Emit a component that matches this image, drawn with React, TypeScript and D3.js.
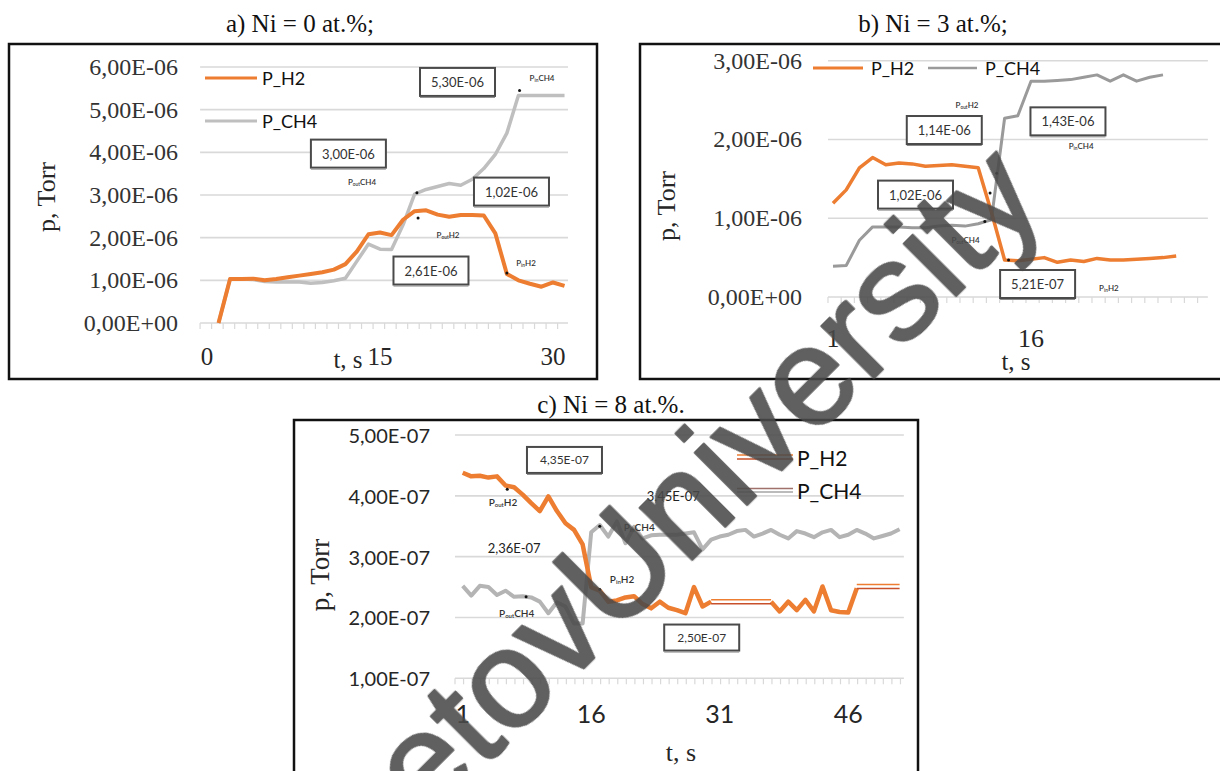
import React from "react";
import * as d3 from "d3";

// ---------- Panel a: Ni = 0 at.% (values in 1e-6 Torr, t = 1..31)
const A_H2 = [0, 1.03, 1.03, 1.04, 1.0, 1.03, 1.07, 1.11, 1.15, 1.19, 1.25, 1.38, 1.68, 2.08, 2.12, 2.06, 2.42, 2.62, 2.64, 2.54, 2.49, 2.53, 2.53, 2.52, 2.1, 1.15, 1.0, 0.92, 0.85, 0.95, 0.87];
const A_CH4 = [0, 1.03, 1.03, 1.02, 0.97, 0.96, 0.96, 0.96, 0.93, 0.95, 0.99, 1.05, 1.45, 1.85, 1.73, 1.72, 2.3, 3.02, 3.13, 3.2, 3.27, 3.23, 3.37, 3.62, 3.95, 4.45, 5.33, 5.33, 5.33, 5.33, 5.33];
const A_YTICKS = [0, 1, 2, 3, 4, 5, 6];
const A_YLABELS = ["0,00E+00", "1,00E-06", "2,00E-06", "3,00E-06", "4,00E-06", "5,00E-06", "6,00E-06"];
const A_XTICKS = [0, 15, 30];
const A_XLABELS = ["0", "15", "30"];

// ---------- Panel b: Ni = 3 at.% (values in 1e-6 Torr, t = 1..)
const B_H2 = [1.19, 1.36, 1.64, 1.77, 1.68, 1.7, 1.69, 1.66, 1.67, 1.68, 1.66, 1.64, 1.08, 0.47, 0.46, 0.48, 0.5, 0.44, 0.47, 0.45, 0.49, 0.47, 0.47, 0.48, 0.49, 0.5, 0.52];
const B_CH4 = [0.39, 0.4, 0.72, 0.89, 0.89, 0.89, 0.88, 0.88, 0.9, 0.91, 0.9, 0.93, 0.98, 2.27, 2.3, 2.74, 2.74, 2.75, 2.76, 2.79, 2.82, 2.74, 2.82, 2.74, 2.79, 2.82];
const B_YTICKS = [0, 1, 2, 3];
const B_YLABELS = ["0,00E+00", "1,00E-06", "2,00E-06", "3,00E-06"];
const B_XTICKS = [1, 16];
const B_XLABELS = ["1", "16"];

// ---------- Panel c: Ni = 8 at.% (values in 1e-7 Torr, t = 1..52)
const C_H2 = [4.38, 4.32, 4.33, 4.3, 4.32, 4.17, 4.14, 4.02, 3.88, 3.75, 3.99, 3.75, 3.55, 3.44, 3.2, 2.5, 2.44, 2.26, 2.28, 2.33, 2.35, 2.22, 2.15, 2.26, 2.16, 2.12, 2.07, 2.5, 2.18, 2.26,
  null, null, null, null, null, null,
  2.26, 2.1, 2.26, 2.12, 2.29, 2.1, 2.51, 2.12, 2.09, 2.08, 2.48,
  null, null, null, null, null];
const C_CH4 = [2.52, 2.36, 2.52, 2.5, 2.37, 2.44, 2.34, 2.35, 2.33, 2.26, 2.07, 2.25, 2.18, 1.9, 1.9, 3.4, 3.52, 3.33, 3.58, 3.22, 3.49, 3.3, 3.35, 3.36, 3.36, 3.36, 3.38, 3.4, 3.12, 3.28, 3.33, 3.36, 3.42, 3.44, 3.33, 3.38, 3.44, 3.36, 3.3, 3.42, 3.38, 3.32, 3.4, 3.44, 3.32, 3.36, 3.44, 3.38, 3.3, 3.34, 3.38, 3.45];
// hand-drawn double-line bridges on the H2 curve: [t from, t to, value]
const C_H2_BRIDGES = [[30, 37, 2.26], [47, 52, 2.51]];
const C_YTICKS = [1, 2, 3, 4, 5];
const C_YLABELS = ["1,00E-07", "2,00E-07", "3,00E-07", "4,00E-07", "5,00E-07"];
const C_XTICKS = [1, 16, 31, 46];
const C_XLABELS = ["1", "16", "31", "46"];

// ---------- annotations (data coords: t, value)
const A_BOXES = [["5,30E-06", 21.72, 5.65], ["3,00E-06", 12.26, 3.97], ["1,02E-06", 26.4, 3.08], ["2,61E-06", 19.42, 1.23]];
const A_SMALL = [["in", "CH4", 29.05, 5.74], ["out", "CH4", 13.44, 3.3], ["out", "H2", 20.9, 2.06], ["in", "H2", 27.66, 1.41]];
const A_DOTS = [[27.1, 5.45], [18.2, 3.05], [18.3, 2.46], [26.0, 1.17]];

const B_BOXES = [["1,14E-06", 9.43, 2.12], ["1,43E-06", 18.8, 2.23], ["1,02E-06", 7.25, 1.3], ["5,21E-07", 16.5, 0.165]];
const B_SMALL = [["out", "H2", 11.15, 2.44], ["in", "CH4", 19.8, 1.92], ["out", "CH4", 11.04, 0.72], ["in", "H2", 21.9, 0.11]];
const B_DOTS = [[13.4, 1.57], [12.9, 1.32], [12.5, 0.96], [14.3, 0.47]];

const C_BOXES = [["4,35E-07", 12.88, 4.59], ["2,50E-07", 28.9, 1.67]];
const C_TEXTS = [["3,45E-07", 25.58, 3.99], ["2,36E-07", 7.01, 3.14]];
const C_SMALL = [["out", "H2", 5.7, 3.9], ["out", "CH4", 7.3, 2.08], ["in", "CH4", 21.6, 3.49], ["in", "H2", 19.6, 2.64]];
const C_DOTS = [[6.2, 4.11], [8.4, 2.34], [17.0, 3.5], [17.0, 2.46]];

const SERIF = "'Liberation Serif', 'Times New Roman', serif";
const SANS = "Lato, 'Open Sans', 'Liberation Sans', sans-serif";
const ORANGE = "#ED7D31";
const TXT = "#262626";

type Sc = d3.ScaleLinear<number, number>;

function seriesPath(vals: (number | null)[], x: Sc, y: Sc) {
  const line = d3
    .line<number | null>()
    .defined((d) => d != null)
    .x((_d, i) => x(i + 1))
    .y((d) => y(d as number));
  return line(vals) || "";
}

function Box({ label, cx, cy, w, h, fs }: any) {
  return (
    <g>
      <rect x={cx - w / 2} y={cy - h / 2} width={w} height={h} fill="#fff" stroke="#4a4a4a" strokeWidth={2} />
      <line x1={cx - w / 2} x2={cx + w / 2} y1={cy + h / 2 + 1.5} y2={cy + h / 2 + 1.5} stroke="#8a8a8a" strokeWidth={1} />
      <text x={cx} y={cy} textAnchor="middle" dominantBaseline="central" fontFamily={SANS} fontSize={fs} fill="#333">
        {label}
      </text>
    </g>
  );
}

function Small({ sub, gas, cx, cy, fs }: any) {
  return (
    <text x={cx} y={cy} textAnchor="middle" dominantBaseline="central" fontFamily={SANS} fontSize={fs} fill="#333" fontWeight={600}>
      P<tspan fontSize={fs * 0.6} dy={fs * 0.25}>{sub}</tspan>
      <tspan dy={-fs * 0.25}>{gas}</tspan>
    </text>
  );
}

function Grid({ x, y, ticks, t0, t1, tickStep }: any) {
  const bottom = ticks[0];
  const tickPos: number[] = [];
  for (let t = t0; t <= t1 + 1e-6; t += tickStep) tickPos.push(t);
  return (
    <g>
      {ticks.map((v: number) => (
        <line key={v} x1={x(t0)} x2={x(t1)} y1={y(v)} y2={y(v)} stroke="#d9d9d9" strokeWidth={1.6} />
      ))}
      {tickPos.map((t, i) => (
        <line key={i} x1={x(t)} x2={x(t)} y1={y(bottom)} y2={y(bottom) + 6} stroke="#d9d9d9" strokeWidth={1.2} />
      ))}
    </g>
  );
}

export default function App() {
  // panel a
  const xa = d3.scaleLinear().domain([0, 30]).range([207, 553]);
  const ya = d3.scaleLinear().domain([0, 6]).range([323, 67]);
  // panel b
  const xb = d3.scaleLinear().domain([1, 16]).range([833, 1031]);
  const yb = d3.scaleLinear().domain([0, 3]).range([297, 60.7]);
  // panel c
  const xc = d3.scaleLinear().domain([1, 46]).range([462.7, 848.2]);
  const yc = d3.scaleLinear().domain([1, 5]).range([678.3, 435]);

  return (
    <svg width={1220} height={771} style={{ position: "absolute", left: 0, top: 0, background: "#fff" }}>
      <rect x={0} y={0} width={1220} height={771} fill="#fff" />

      {/* ================= Panel a ================= */}
      <text x={300} y={32} textAnchor="middle" fontFamily={SERIF} fontSize={25} fill="#111">a) Ni = 0 at.%;</text>
      <rect x={9} y={44} width={588} height={335} fill="none" stroke="#111" strokeWidth={2.5} />
      <Grid x={xa} y={ya} ticks={A_YTICKS} t0={-0.6} t1={31.3} tickStep={1} />
      {A_YTICKS.map((v, i) => (
        <text key={v} x={178} y={ya(v)} textAnchor="end" dominantBaseline="central" fontFamily={SERIF} fontSize={24} fill="#333">
          {A_YLABELS[i]}
        </text>
      ))}
      {A_XTICKS.map((t, i) => (
        <text key={t} x={xa(t)} y={356} textAnchor="middle" dominantBaseline="central" fontFamily={SERIF} fontSize={25} fill={TXT}>
          {A_XLABELS[i]}
        </text>
      ))}
      <text x={348} y={359} textAnchor="middle" dominantBaseline="central" fontFamily={SERIF} fontSize={25} fill={TXT}>t, s</text>
      <text transform="translate(46,197) rotate(-90)" textAnchor="middle" dominantBaseline="central" fontFamily={SERIF} fontSize={26} fill={TXT}>p, Torr</text>
      <path d={seriesPath(A_CH4, xa, ya)} fill="none" stroke="#bfbfbf" strokeWidth={3.5} strokeLinejoin="round" />
      <path d={seriesPath(A_H2, xa, ya)} fill="none" stroke={ORANGE} strokeWidth={4} strokeLinejoin="round" />
      {/* legend a */}
      <line x1={205} x2={257} y1={78} y2={78} stroke={ORANGE} strokeWidth={3} />
      <text x={262} y={78} dominantBaseline="central" fontFamily={SANS} fontSize={18} fill="#111">P_H2</text>
      <line x1={205} x2={257} y1={121} y2={121} stroke="#bfbfbf" strokeWidth={3} />
      <text x={262} y={121} dominantBaseline="central" fontFamily={SANS} fontSize={18} fill="#111">P_CH4</text>
      {A_BOXES.map((b: any, i) => (
        <Box key={i} label={b[0]} cx={xa(b[1])} cy={ya(b[2])} w={75} h={28} fs={13} />
      ))}
      {A_SMALL.map((s: any, i) => (
        <Small key={i} sub={s[0]} gas={s[1]} cx={xa(s[2])} cy={ya(s[3])} fs={8} />
      ))}
      {A_DOTS.map((d, i) => (
        <circle key={i} cx={xa(d[0])} cy={ya(d[1])} r={1.5} fill="#111" />
      ))}

      {/* ================= Panel b ================= */}
      <text x={933} y={32} textAnchor="middle" fontFamily={SERIF} fontSize={25} fill="#111">b) Ni = 3 at.%;</text>
      <rect x={640} y={44} width={600} height={335} fill="none" stroke="#111" strokeWidth={2.5} />
      <Grid x={xb} y={yb} ticks={B_YTICKS} t0={0.62} t1={29.4} tickStep={1} />
      {B_YTICKS.map((v, i) => (
        <text key={v} x={802} y={yb(v)} textAnchor="end" dominantBaseline="central" fontFamily={SERIF} fontSize={24} fill="#333">
          {B_YLABELS[i]}
        </text>
      ))}
      {B_XTICKS.map((t, i) => (
        <text key={t} x={xb(t)} y={338} textAnchor="middle" dominantBaseline="central" fontFamily={SERIF} fontSize={26} fill={TXT}>
          {B_XLABELS[i]}
        </text>
      ))}
      <text x={1016} y={361} textAnchor="middle" dominantBaseline="central" fontFamily={SERIF} fontSize={25} fill={TXT}>t, s</text>
      <text transform="translate(666,206) rotate(-90)" textAnchor="middle" dominantBaseline="central" fontFamily={SERIF} fontSize={26} fill={TXT}>p, Torr</text>
      <path d={seriesPath(B_CH4, xb, yb)} fill="none" stroke="#9a9a9a" strokeWidth={3} strokeLinejoin="round" />
      <path d={seriesPath(B_H2, xb, yb)} fill="none" stroke={ORANGE} strokeWidth={3.5} strokeLinejoin="round" />
      {/* legend b */}
      <line x1={813} x2={863} y1={68} y2={68} stroke={ORANGE} strokeWidth={3} />
      <text x={871} y={68} dominantBaseline="central" fontFamily={SANS} fontSize={18} fill="#111">P_H2</text>
      <line x1={928} x2={977} y1={68} y2={68} stroke="#9a9a9a" strokeWidth={2.5} />
      <text x={985} y={68} dominantBaseline="central" fontFamily={SANS} fontSize={18} fill="#111">P_CH4</text>
      {B_BOXES.map((b: any, i) => (
        <Box key={i} label={b[0]} cx={xb(b[1])} cy={yb(b[2])} w={75} h={28} fs={13} />
      ))}
      {B_SMALL.map((s: any, i) => (
        <Small key={i} sub={s[0]} gas={s[1]} cx={xb(s[2])} cy={yb(s[3])} fs={8} />
      ))}
      {B_DOTS.map((d, i) => (
        <circle key={i} cx={xb(d[0])} cy={yb(d[1])} r={1.5} fill="#111" />
      ))}

      {/* ================= Panel c ================= */}
      <text x={611} y={413} textAnchor="middle" fontFamily={SERIF} fontSize={25} fill="#111">c) Ni = 8 at.%.</text>
      <rect x={294} y={420} width={624} height={380} fill="none" stroke="#111" strokeWidth={2.5} />
      <Grid x={xc} y={yc} ticks={C_YTICKS} t0={0.1} t1={52.5} tickStep={1} />
      {C_YTICKS.map((v, i) => (
        <text key={v} x={430} y={yc(v)} textAnchor="end" dominantBaseline="central" fontFamily={SANS} fontSize={20} fill={TXT}>
          {C_YLABELS[i]}
        </text>
      ))}
      {C_XTICKS.map((t, i) => (
        <text key={t} x={xc(t)} y={713} textAnchor="middle" dominantBaseline="central" fontFamily={SANS} fontSize={25} fill={TXT}>
          {C_XLABELS[i]}
        </text>
      ))}
      <text x={681} y={752} textAnchor="middle" dominantBaseline="central" fontFamily={SERIF} fontSize={26} fill={TXT}>t, s</text>
      <text transform="translate(320,575) rotate(-90)" textAnchor="middle" dominantBaseline="central" fontFamily={SERIF} fontSize={27} fill={TXT}>p, Torr</text>
      <path d={seriesPath(C_CH4, xc, yc)} fill="none" stroke="#b4b4b4" strokeWidth={4} strokeLinejoin="round" />
      <path d={seriesPath(C_H2, xc, yc)} fill="none" stroke={ORANGE} strokeWidth={4.5} strokeLinejoin="round" />
      {C_H2_BRIDGES.map((b, i) => (
        <g key={i}>
          <line x1={xc(b[0])} x2={xc(b[1])} y1={yc(b[2]) - 2} y2={yc(b[2]) - 2} stroke={ORANGE} strokeWidth={1.5} />
          <line x1={xc(b[0])} x2={xc(b[1])} y1={yc(b[2]) + 2} y2={yc(b[2]) + 2} stroke="#C8502A" strokeWidth={1.5} />
        </g>
      ))}
      {/* legend c */}
      <line x1={737} x2={793} y1={455} y2={455} stroke={ORANGE} strokeWidth={1.6} />
      <line x1={737} x2={793} y1={459} y2={459} stroke="#C8502A" strokeWidth={1.6} />
      <text x={797} y={457} dominantBaseline="central" fontFamily={SANS} fontSize={21} fill="#111">P_H2</text>
      <line x1={737} x2={793} y1={488.5} y2={488.5} stroke="#a0706a" strokeWidth={1.5} />
      <line x1={737} x2={793} y1={492} y2={492} stroke="#a5a5a5" strokeWidth={1.5} />
      <text x={797} y={490} dominantBaseline="central" fontFamily={SANS} fontSize={21} fill="#111">P_CH4</text>
      {C_BOXES.map((b: any, i) => (
        <Box key={i} label={b[0]} cx={xc(b[1])} cy={yc(b[2])} w={75} h={26} fs={12} />
      ))}
      {C_TEXTS.map((b: any, i) => (
        <text key={i} x={xc(b[1])} y={yc(b[2])} textAnchor="middle" dominantBaseline="central" fontFamily={SANS} fontSize={13} fill="#222">
          {b[0]}
        </text>
      ))}
      {C_SMALL.map((s: any, i) => (
        <Small key={i} sub={s[0]} gas={s[1]} cx={xc(s[2])} cy={yc(s[3])} fs={10} />
      ))}
      {C_DOTS.map((d, i) => (
        <circle key={i} cx={xc(d[0])} cy={yc(d[1])} r={1.5} fill="#111" />
      ))}

      {/* ================= Watermark ================= */}
      <g fontFamily="'Liberation Sans', Arial, sans-serif" fontSize={140} fill="#4a4a4a" stroke="#4a4a4a" strokeWidth={2.5} strokeLinejoin="round" opacity={0.88}>
        <text transform="translate(614,638) rotate(-45)" textAnchor="end">Buketov </text>
        <text transform="translate(614,638) rotate(-45)" textAnchor="start">University</text>
      </g>
    </svg>
  );
}
